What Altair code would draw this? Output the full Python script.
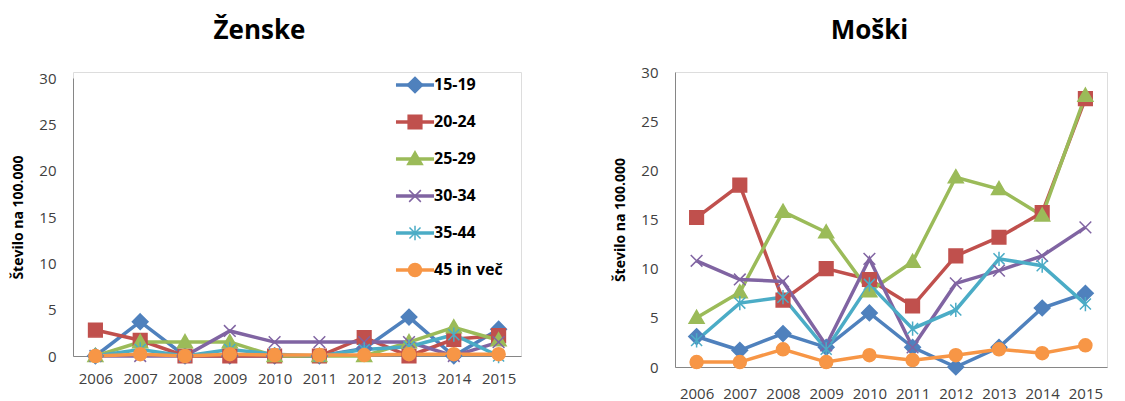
import altair as alt
import pandas as pd

years = [2006, 2007, 2008, 2009, 2010, 2011, 2012, 2013, 2014, 2015]
groups = ["15-19", "20-24", "25-29", "30-34", "35-44", "45 in več"]
colors = ["#4F81BD", "#C0504D", "#9BBB59", "#8064A2", "#4BACC6", "#F79646"]

# Ženske
f_15_19 = [0, 3.7, 0, 0, 0, 0, 0.8, 4.2, 0, 2.9]
f_20_24 = [2.8, 1.7, 0, 0, 0, 0, 2.0, 0, 1.8, 2.2]
f_25_29 = [0, 1.5, 1.5, 1.5, 0, 0, 0, 1.5, 3.1, 1.7]
f_30_34 = [0, 0, 0, 2.7, 1.5, 1.5, 1.5, 1.5, 0, 1.5]
f_35_44 = [0, 0.7, 0, 0.7, 0.2, 0, 0.7, 1.0, 2.3, 0]
f_45 = [0, 0.2, 0, 0.2, 0.1, 0.1, 0.1, 0.2, 0.2, 0.2]

# Moški
m_15_19 = [3.1, 1.7, 3.4, 2.0, 5.5, 2.0, 0, 2.0, 6.0, 7.5]
m_20_24 = [15.2, 18.5, 6.8, 10.0, 8.9, 6.2, 11.3, 13.2, 15.7, 27.3]
m_25_29 = [5.0, 7.6, 15.8, 13.7, 7.7, 10.7, 19.3, 18.1, 15.4, 27.6]
m_30_34 = [10.8, 8.9, 8.7, 2.2, 11.0, 2.0, 8.5, 9.8, 11.3, 14.2]
m_35_44 = [2.7, 6.5, 7.1, 1.8, 8.4, 3.9, 5.8, 11.0, 10.3, 6.4]
m_45 = [0.5, 0.5, 1.8, 0.5, 1.2, 0.7, 1.2, 1.8, 1.4, 2.2]

y_ticks = [0, 5, 10, 15, 20, 25, 30]
y_title = "Število na 100.000"

FONT = "Open Sans"

marker_shapes = [
    "M0,-1.2L1.2,0L0,1.2L-1.2,0Z",
    "M-1.05,-1.05L1.05,-1.05L1.05,1.05L-1.05,1.05Z",
    "M0,-1.15L1.15,0.85L-1.15,0.85Z",
    "M-0.9,-0.9L0.9,0.9M-0.9,0.9L0.9,-0.9",
    "M-0.85,-0.85L0.85,0.85M-0.85,0.85L0.85,-0.85M0,-1.1L0,1.1",
    "circle",
]


def to_long(series_list):
    rows = []
    for g, vals in zip(groups, series_list):
        for yr, v in zip(years, vals):
            rows.append({"year": yr, "group": g, "value": v})
    return pd.DataFrame(rows)


df_f = to_long([f_15_19, f_20_24, f_25_29, f_30_34, f_35_44, f_45])
df_m = to_long([m_15_19, m_20_24, m_25_29, m_30_34, m_35_44, m_45])

legend_lines = alt.Legend(
    title=None, orient="none", direction="vertical", legendX=322, legendY=5,
    labelFont=FONT, labelFontSize=16, labelFontWeight="bold", labelColor="#000000",
    rowPadding=21, padding=0, symbolOffset=12, labelOffset=11,
    symbolType="M-3.17,0L3.17,0", symbolSize=144, symbolStrokeWidth=3.5, zindex=0,
)
legend_pts = alt.Legend(
    title=None, orient="none", direction="vertical", legendX=322, legendY=1,
    labelFont=FONT, labelFontSize=24, labelFontWeight="bold", labelColor="transparent",
    labelExpr="' '",
    rowPadding=13, padding=0, symbolOffset=8, labelOffset=11,
    symbolSize=169, symbolStrokeWidth=1.5, symbolOpacity=1, zindex=1,
)


def panel(df, title, show_legend, height, width, yrange, title_offset, x_lab_pad, title_dx):
    x = alt.X("year:O", axis=alt.Axis(
        title=None, labelAngle=0, ticks=False, tickSize=0, labelPadding=x_lab_pad,
        labelFont=FONT, labelFontSize=15, labelColor="#404040",
        domainColor="#868686", domainWidth=1, grid=False))
    yscale = alt.Scale(domain=[0, 30], range=yrange) if yrange else alt.Scale(domain=[0, 30])
    y = alt.Y("value:Q", scale=yscale, axis=alt.Axis(
        title=y_title, values=y_ticks, ticks=False, tickSize=0, labelPadding=17,
        labelFont=FONT, labelFontSize=15, labelColor="#404040",
        domainColor="#868686", domainWidth=1, grid=False,
        titleFont=FONT, titleFontSize=14, titleFontWeight="bold", titleColor="#000000",
        titlePadding=13))
    line = alt.Chart(df).mark_line(strokeWidth=3.5).encode(
        x=x, y=y,
        color=alt.Color("group:N", scale=alt.Scale(domain=groups, range=colors),
                        legend=legend_lines if show_legend else None),
    )
    lp = legend_pts if show_legend else None
    pts = alt.Chart(df).mark_point(filled=True, size=169, opacity=1, strokeWidth=1.5).encode(
        x=x, y=y,
        fill=alt.Fill("group:N", scale=alt.Scale(range=colors), legend=lp),
        stroke=alt.Stroke("group:N", scale=alt.Scale(range=colors), legend=lp),
        shape=alt.Shape("group:N", scale=alt.Scale(range=marker_shapes), legend=lp),
    )
    return alt.layer(line, pts).properties(
        width=width, height=height,
        title=alt.TitleParams(title, font=FONT, fontSize=26, fontWeight="bold",
                              color="#000000", anchor="middle", frame="bounds",
                              offset=title_offset, dx=title_dx),
    )


left = panel(df_f, "Ženske", True, 284, 448, [284, 6], 27, 15, -7)
right = panel(df_m, "Moški", False, 295, 432, None, 21, 19, 9)

chart = alt.hconcat(left, right, spacing=91).resolve_legend(
    color="independent", fill="independent", stroke="independent", shape="independent"
).resolve_scale(
    color="independent", fill="independent", stroke="independent", shape="independent"
).properties(
    padding={"top": 9, "left": 3, "right": 0, "bottom": 0}
).configure_view(stroke=None).configure(background="white")

chart.save("out.html", embed_options={"renderer": "svg", "actions": False})
